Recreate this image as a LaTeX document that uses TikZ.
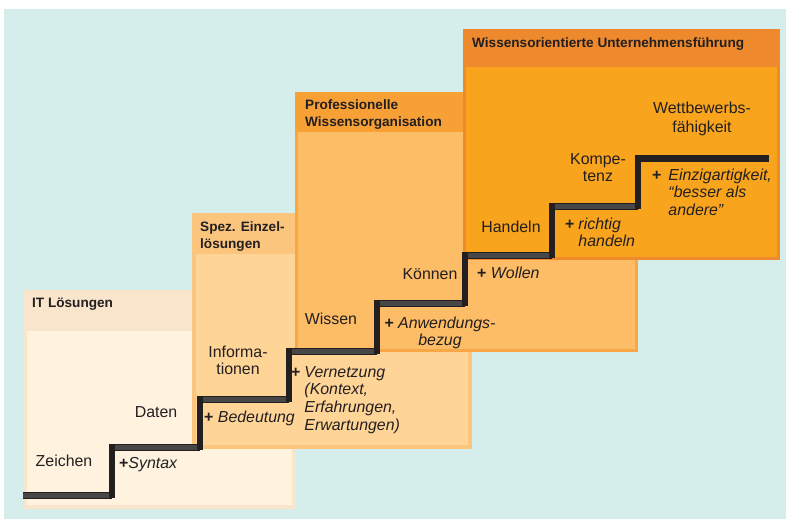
\documentclass[tikz,border=0pt]{standalone}
\usepackage{fontspec}
\setmainfont{Liberation Sans}
\definecolor{bgteal}{HTML}{D5EEEB}
\definecolor{bonehead}{HTML}{F9E4CC}
\definecolor{bonebody}{HTML}{FFF3DF}
\definecolor{btwohead}{HTML}{FCC57E}
\definecolor{btwobody}{HTML}{FFD497}
\definecolor{bthreehead}{HTML}{F7A036}
\definecolor{bthreeborder}{HTML}{F8A646}
\definecolor{bthreebody}{HTML}{FCBD66}
\definecolor{bfourhead}{HTML}{EE8A2D}
\definecolor{bfourbody}{HTML}{F8A51D}
\definecolor{ink}{HTML}{231F20}
\definecolor{tread}{HTML}{474747}
\tikzset{
  lbl/.style={inner sep=0pt, text=ink, font=\fontsize{15.9}{17.8}\selectfont, align=center},
  lblL/.style={inner sep=0pt, text=ink, font=\fontsize{15.9}{17.8}\selectfont, anchor=base west},
  hdr/.style={inner sep=0pt, text=ink, font=\fontsize{13.6}{17.5}\selectfont\bfseries, align=left, anchor=base west},
  riser/.style={draw=ink, line width=6.5pt, line cap=rect},
  treadout/.style={draw=ink, line width=7pt},
  treadin/.style={draw=tread, line width=5pt},
}
\begin{document}
\begin{tikzpicture}[x=1pt,y=-1pt]
\useasboundingbox (0,0) rectangle (786,519);
\fill[white] (0,0) rectangle (786,519);
\fill[bgteal] (4,9) rectangle (786,519);
% box 1
\fill[bonehead] (23,290) rectangle (296,509);
\fill[bonebody] (27,331) rectangle (292,505);
% box 2
\fill[btwohead] (192,213) rectangle (472,449);
\fill[btwobody] (196,254) rectangle (468,445);
% box 3
\fill[bthreeborder] (295,92) rectangle (638,352);
\fill[bthreehead] (295,92) rectangle (638,132);
\fill[bthreebody] (298,132) rectangle (635,349);
% box 4
\fill[bfourhead] (463,29) rectangle (780,260);
\fill[bfourbody] (466,67) rectangle (777,257);
% headers
\node[hdr] (h1) at (32,307) {IT Lösungen};
\node[hdr] (h2) at (200,231) {\begin{tabular}[t]{@{}l@{}}Spez. Einzel-\\lösungen\end{tabular}};
\node[hdr] (h3) at (305,109) {\begin{tabular}[t]{@{}l@{}}Professionelle\\Wissensorganisation\end{tabular}};
\node[hdr] (h4) at (472,48) {Wissensorientierte Unternehmensführung};
% stairs
\coordinate (p0) at (23,495);
\coordinate (p1) at (112,495);
\coordinate (p2) at (112,447);
\coordinate (p3) at (200,447);
\coordinate (p4) at (200,399);
\coordinate (p5) at (289,399);
\coordinate (p6) at (289,351);
\coordinate (p7) at (377,351);
\coordinate (p8) at (377,303);
\coordinate (p9) at (465,303);
\coordinate (p10) at (465,255);
\coordinate (p11) at (552,255);
\coordinate (p12) at (552,206);
\coordinate (p13) at (638,206);
\coordinate (p14) at (638,158);
\coordinate (p15) at (769,158);
\foreach \a/\b in {p0/p1,p2/p3,p4/p5,p6/p7,p8/p9,p10/p11,p12/p13}{
  \draw[treadout] (\a) -- (\b);
  \draw[treadin] (\a) -- (\b);
}
\draw[draw=ink, line width=7pt] (p14) -- (p15);
\foreach \a/\b in {p1/p2,p3/p4,p5/p6,p7/p8,p9/p10,p11/p12,p13/p14}{
  \draw[riser] (\a) -- (\b);
}
% labels
\node[lbl, anchor=base] (zeichen) at (64,466) {Zeichen};
\node[lblL] (syntax) at (119,468) {\textbf{+}\textit{Syntax}};
\node[lbl, anchor=base] (daten) at (156,417) {Daten};
\node[lbl, anchor=base] (info) at (238,357) {\begin{tabular}[t]{@{}c@{}}Informa-\\tionen\end{tabular}};
\node[lblL] (bedeutung) at (204,422) {\textbf{+} \textit{Bedeutung}};
\node[lblL] (vernetzung) at (291,377) {\begin{tabular}[t]{@{}l@{\hspace{4pt}}l@{}}\textbf{+}&\textit{Vernetzung}\\&\textit{(Kontext,}\\&\textit{Erfahrungen,}\\&\textit{Erwartungen)}\end{tabular}};
\node[lbl, anchor=base] (wissen) at (331,324) {Wissen};
\node[lbl, anchor=base] (koennen) at (430,279) {Können};
\node[lbl, anchor=base] (anwendung) at (440,328) {\begin{tabular}[t]{@{}c@{}}\textbf{+} \textit{Anwendungs-}\\\textit{bezug}\end{tabular}};
\node[lblL] (wollen) at (477,278) {\textbf{+} \textit{Wollen}};
\node[lbl, anchor=base] (handeln) at (511,232) {Handeln};
\node[lblL] (richtig) at (565,229) {\begin{tabular}[t]{@{}l@{\hspace{4pt}}l@{}}\textbf{+}&\textit{richtig}\\&\textit{handeln}\end{tabular}};
\node[lbl, anchor=base] (kompetenz) at (598,164) {\begin{tabular}[t]{@{}c@{}}Kompe-\\tenz\end{tabular}};
\node[lbl, anchor=base] (wettbewerb) at (702,113) {\begin{tabular}[t]{@{}c@{}}Wettbewerbs-\\[1.5pt]fähigkeit\end{tabular}};
\node[lblL] (einzig) at (652,180) {\begin{tabular}[t]{@{}l@{\hspace{7pt}}l@{}}\textbf{+}&\textit{Einzigartigkeit,}\\&\textit{“besser als}\\&\textit{andere”}\end{tabular}};
\end{tikzpicture}
\end{document}
